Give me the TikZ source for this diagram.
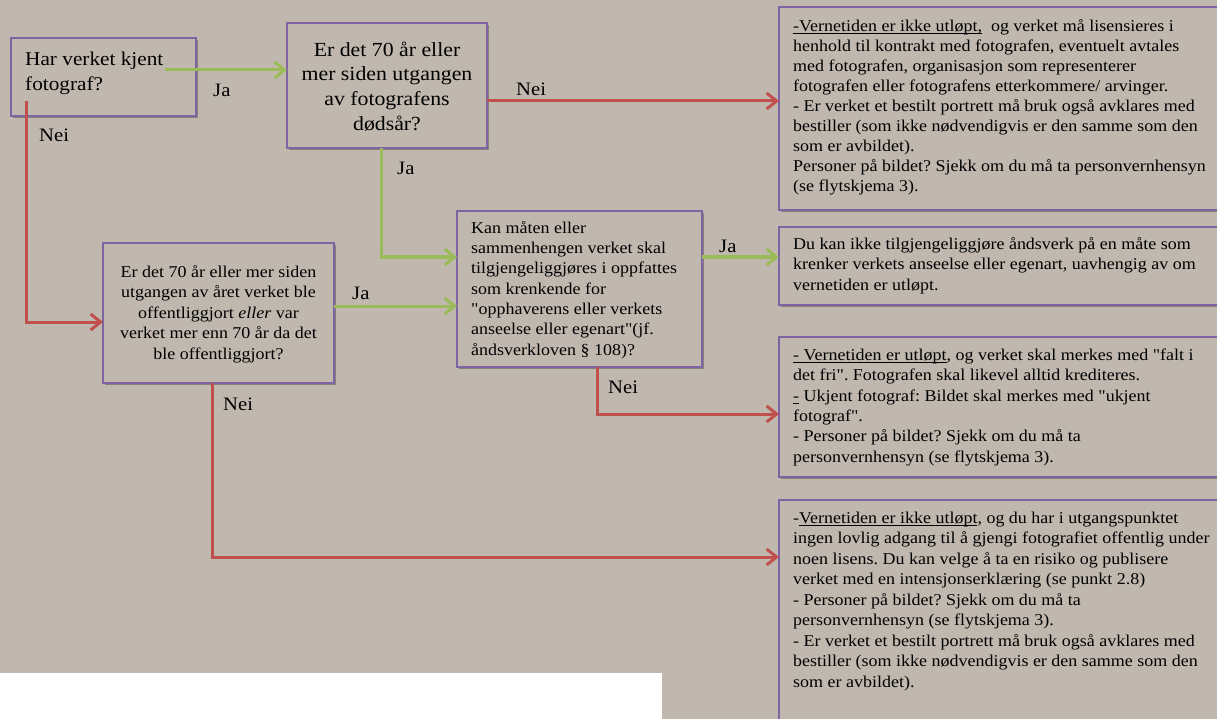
\documentclass[tikz,border=0pt]{standalone}
\usepackage{fontspec}
\setmainfont{Liberation Serif}[FakeStretch=1.09,Ligatures=TeXOff]
\usetikzlibrary{arrows.meta,shadows}
\definecolor{bg}{RGB}{192,184,175}
\definecolor{boxc}{RGB}{128,100,162}
\definecolor{grn}{RGB}{155,187,89}
\definecolor{rd}{RGB}{192,80,77}
\newcommand\myul[1]{\setbox0=\hbox{#1}\rlap{\rule[-2.6pt]{\wd0}{0.9pt}}\box0\relax}
\newcommand\fs[2]{\fontsize{#1}{#2}\selectfont}
\newcommand\qq{"}
\frenchspacing
\begin{document}
\begin{tikzpicture}[x=1pt,y=-1pt,
  box/.style={draw=boxc,line width=1.4pt,fill=bg,anchor=north west,inner sep=0pt,outer sep=0pt,
    drop shadow={shadow xshift=1.8pt,shadow yshift=-2.2pt,opacity=0.3,fill=black}},
  txt/.style={inner sep=0pt,anchor=north west,align=left,text=black},
  ctxt/.style={inner sep=0pt,anchor=north,align=center,text=black},
  lbl/.style={inner sep=0pt,anchor=base west,font=\fs{19}{23}},
  garr/.style={draw=grn,line width=3pt,-{Straight Barb[length=10pt,width=16pt]}},
  rarr/.style={draw=rd,line width=3pt,-{Straight Barb[length=10pt,width=16pt]}}]
\useasboundingbox (0,0) rectangle (1217,719);
\fill[bg] (0,0) rectangle (1217,719);
\begin{scope}
\clip (0,0) rectangle (1217,719);
\fill[white] (0,673) rectangle (662,719);
% boxes
\node[box,minimum width=185pt,minimum height=78pt] (b1) at (11,38) {};
\node[box,minimum width=200pt,minimum height=125pt] (b2) at (287,23) {};
\node[box,minimum width=460pt,minimum height=203pt] (b3) at (779,7) {};
\node[box,minimum width=231pt,minimum height=140pt] (b4) at (103,243) {};
\node[box,minimum width=245pt,minimum height=156pt] (b5) at (457,211) {};
\node[box,minimum width=460pt,minimum height=78pt] (b6) at (779,227) {};
\node[box,minimum width=460pt,minimum height=140pt] (b7) at (779,337) {};
\node[box,minimum width=460pt,minimum height=260pt] (b8) at (779,500) {};
% connectors
\coordinate (s12) at (165,70);
\coordinate (s14) at (26,101);
\draw[garr] (s12) -- (b2.west |- s12);
\draw[rarr] (s14) |- (b4.west |- 0,322);
\draw[rarr] (b2.east |- 0,101) -- (b3.west |- 0,101);
\draw[garr] (b2.south -| 381,0) |- (b5.west |- 0,257);
\draw[garr] (b4.east |- 0,306) -- (b5.west |- 0,306);
\draw[garr] (b5.east |- 0,257) -- (b6.west |- 0,257);
\draw[rarr] (b5.south -| 597,0) |- (b7.west |- 0,414);
\draw[rarr] (b4.south -| 212,0) |- (b8.west |- 0,557);
% labels
\node[lbl] (l1) at (213,97) {Ja};
\node[lbl] (l2) at (39,142) {Nei};
\node[lbl] (l3) at (516,96) {Nei};
\node[lbl] (l4) at (397,175) {Ja};
\node[lbl] (l5) at (352,299) {Ja};
\node[lbl] (l6) at (719,253) {Ja};
\node[lbl] (l7) at (608,393) {Nei};
\node[lbl] (l8) at (223,410) {Nei};
% texts
\node[txt,font=\fs{19.5}{25}] (t1) at (25,45) {\rule{0pt}{20pt}Har verket kjent\\fotograf?};
\node[ctxt,font=\fs{20}{24.7}] (t2) at (387,36) {\rule{0pt}{20pt}Er det 70 år eller\\mer siden utgangen\\av fotografens\\dødsår?};
\node[txt,font=\fs{16.5}{20}] (t3) at (793,15) {\rule{0pt}{16pt}\myul{-Vernetiden er ikke utløpt,}\ \ og verket må lisensieres i\\
henhold til kontrakt med fotografen, eventuelt avtales\\
med fotografen, organisasjon som representerer\\
fotografen eller fotografens etterkommere/ arvinger.\\
- Er verket et bestilt portrett må bruk også avklares med\\
bestiller (som ikke nødvendigvis er den samme som den\\
som er avbildet).\\
Personer på bildet? Sjekk om du må ta personvernhensyn\\
(se flytskjema 3).};
\node[ctxt,font=\fs{16.5}{20.5}] (t4) at (218.5,261) {\rule{0pt}{16pt}Er det 70 år eller mer siden\\utgangen av året verket ble\\offentliggjort \textit{eller} var\\verket mer enn 70 år da det\\ble offentliggjort?};
\node[txt,font=\fs{16.5}{20.3}] (t5) at (471,217) {\rule{0pt}{16pt}Kan måten eller\\sammenhengen verket skal\\tilgjengeliggjøres i oppfattes\\som krenkende for\\\qq opphaverens eller verkets\\anseelse eller egenart\qq(jf.\\åndsverkloven § 108)?};
\node[txt,font=\fs{16.5}{20.5}] (t6) at (793,233) {\rule{0pt}{16pt}Du kan ikke tilgjengeliggjøre åndsverk på en måte som\\krenker verkets anseelse eller egenart, uavhengig av om\\vernetiden er utløpt.};
\node[txt,font=\fs{16.5}{20.4}] (t7) at (793,344) {\rule{0pt}{16pt}\myul{- Vernetiden er utløpt}, og verket skal merkes med \qq falt i\\det fri\qq. Fotografen skal likevel alltid krediteres.\\\myul{-} Ukjent fotograf: Bildet skal merkes med \qq ukjent\\fotograf\qq.\\- Personer på bildet? Sjekk om du må ta\\personvernhensyn (se flytskjema 3).};
\node[txt,font=\fs{16.5}{20.5}] (t8) at (793,507) {\rule{0pt}{16pt}-\myul{Vernetiden er ikke utløpt}, og du har i utgangspunktet\\ingen lovlig adgang til å gjengi fotografiet offentlig under\\noen lisens. Du kan velge å ta en risiko og publisere\\verket med en intensjonserklæring (se punkt 2.8)\\- Personer på bildet? Sjekk om du må ta\\personvernhensyn (se flytskjema 3).\\- Er verket et bestilt portrett må bruk også avklares med\\bestiller (som ikke nødvendigvis er den samme som den\\som er avbildet).};
\end{scope}
\end{tikzpicture}
\end{document}
